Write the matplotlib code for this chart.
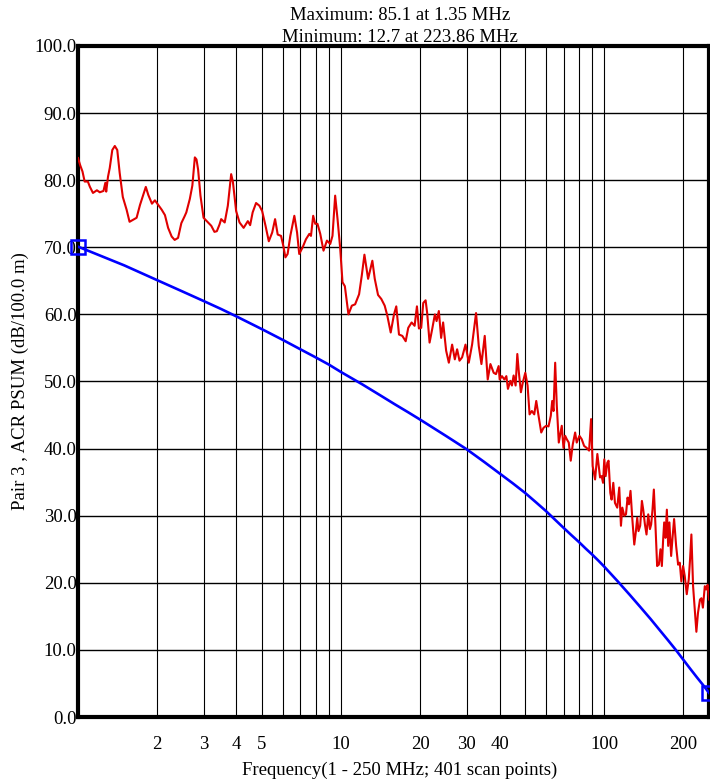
import matplotlib
matplotlib.use('Agg')
import matplotlib.pyplot as plt
from matplotlib.ticker import FixedLocator, NullFormatter

plt.rcParams['font.family'] = ['Liberation Serif', 'DejaVu Serif']

# measured ACR PSUM, pair 3 (MHz, dB)
freq = [1.00, 1.02, 1.04, 1.06, 1.09, 1.11, 1.14, 1.18, 1.21, 1.25, 1.27, 1.28, 1.30, 1.32, 1.35, 1.38,
        1.41, 1.44, 1.48, 1.53, 1.57, 1.62, 1.67, 1.72, 1.77, 1.81, 1.85, 1.91, 1.96, 2.02, 2.08,
        2.14, 2.20, 2.27, 2.33, 2.40, 2.47, 2.54, 2.58, 2.66, 2.72, 2.78, 2.82, 2.86, 2.92, 3.00,
        3.12, 3.21, 3.30, 3.37, 3.45, 3.50, 3.61, 3.71, 3.82, 3.88, 3.99, 4.11, 4.26, 4.42, 4.51,
        4.61, 4.75, 4.89, 5.01, 5.16, 5.31, 5.47, 5.61, 5.74, 5.91, 6.03, 6.14, 6.26, 6.41, 6.64,
        6.80, 6.93, 7.14, 7.35, 7.57, 7.68, 7.83, 7.97, 8.13, 8.33, 8.57, 8.83, 9.09, 9.27, 9.49,
        9.69, 9.92, 10.12, 10.33, 10.66, 10.98, 11.30, 11.70, 11.98, 12.26, 12.66, 13.14, 13.42,
        13.81, 14.21, 14.64, 14.98, 15.43, 15.88, 16.20, 16.59, 17.08, 17.59, 17.99, 18.53, 19.02,
        19.41, 19.75, 20.15, 20.51, 20.94, 21.23, 21.68, 22.18, 22.71, 23.05, 23.51, 23.99, 24.41,
        25.06, 25.66, 26.41, 27.04, 27.59, 28.17, 28.82, 29.69, 30.55, 31.45, 32.56, 33.34, 34.13,
        35.13, 36.06, 36.92, 37.99, 38.76, 39.68, 40.03, 40.84, 41.71, 42.44, 43.04, 43.95, 44.57,
        45.23, 46.03, 46.72, 47.37, 48.21, 49.06, 50.10, 51.11, 52.01, 53.06, 54.18, 55.14, 56.25,
        57.60, 58.76, 60.16, 61.38, 62.62, 63.39, 64.12, 65.07, 66.00, 67.16, 67.98, 68.93, 69.97,
        71.00, 72.01, 73.27, 74.56, 75.88, 77.49, 78.57, 80.45, 82.08, 83.82, 85.74, 87.55, 89.10,
        90.34, 92.26, 94.12, 96.36, 97.72, 98.92, 100.0, 101.2, 102.7, 103.8, 105.4, 106.6, 108.2,
        109.8, 112.0, 114.0, 115.7, 117.1, 119.1, 120.9, 122.6, 124.1, 125.8, 127.7, 130.0, 131.9,
        133.4, 134.9, 136.9, 139.0, 140.6, 142.7, 144.7, 146.9, 149.1, 150.7, 152.5, 154.3, 156.5,
        158.8, 161.2, 163.5, 165.5, 167.4, 168.9, 170.8, 172.9, 174.9, 176.8, 179.5, 181.5, 184.2,
        187.5, 190.8, 193.6, 196.3, 199.3, 202.2, 205.8, 209.4, 211.8, 214.3, 217.5, 223.86, 227.0,
        231.0, 234.0, 237.0, 241.0, 244.0, 247.0, 250.0]
acr = [83.3, 82.2, 81.3, 79.8, 79.8, 79.0, 78.1, 78.5, 78.2, 78.4, 79.6, 78.3, 80.5, 81.8, 84.5, 85.1,
       84.5, 81.1, 77.5, 75.6, 73.8, 74.1, 74.4, 76.3, 77.8, 79.0, 77.8, 76.5, 77.0, 76.3, 75.6,
       74.8, 72.9, 71.6, 71.1, 71.4, 73.6, 74.6, 75.2, 77.2, 79.2, 83.4, 83.1, 81.6, 77.7, 74.4,
       73.7, 73.2, 72.3, 72.4, 73.4, 74.2, 73.7, 76.2, 80.9, 79.7, 75.4, 73.7, 72.9, 73.9, 73.3,
       75.2, 76.6, 76.2, 75.4, 73.2, 70.9, 72.2, 74.2, 71.9, 71.7, 70.2, 68.5, 69.0, 71.7, 74.7,
       72.2, 69.0, 70.0, 71.2, 72.0, 71.7, 74.7, 73.5, 73.5, 72.0, 69.5, 71.0, 70.5, 71.7, 77.7,
       74.2, 69.8, 64.8, 64.2, 60.0, 61.3, 61.5, 63.0, 65.8, 68.9, 65.3, 68.0, 65.3,
       62.9, 62.3, 61.3, 59.8, 57.3, 60.0, 61.2, 57.0, 56.8, 56.0, 58.0, 58.8, 58.3,
       61.2, 57.9, 58.0, 61.7, 62.1, 60.2, 55.8, 57.8, 60.0, 59.0, 60.5, 56.5, 58.8,
       54.6, 52.8, 55.5, 53.3, 54.8, 53.1, 53.6, 55.5, 52.8, 55.5, 60.2, 55.3, 52.6,
       56.8, 50.3, 52.6, 51.3, 51.1, 52.3, 50.3, 50.8, 50.3, 50.8, 48.9, 50.1, 49.4,
       50.9, 49.4, 54.1, 51.3, 48.4, 49.9, 51.3, 49.4, 45.1, 45.6, 45.1, 47.1, 44.9,
       42.4, 43.1, 43.4, 43.3, 44.9, 47.1, 45.6, 52.8, 46.4, 40.9, 42.1, 43.4, 40.1,
       41.9, 41.4, 40.9, 38.2, 40.6, 42.4, 40.9, 41.9, 41.4, 40.4, 40.1, 39.7, 44.4,
       37.4, 35.4, 39.2, 35.7, 35.9, 34.9, 38.4, 35.9, 37.9, 38.2, 33.4, 32.4, 34.9,
       31.9, 31.2, 34.2, 28.5, 31.2, 30.0, 30.2, 32.7, 31.7, 33.7, 29.7, 25.7, 27.7,
       29.7, 27.7, 28.5, 32.2, 30.9, 28.7, 27.2, 30.2, 28.0, 28.7, 30.9, 33.9, 28.5,
       22.5, 22.7, 25.0, 22.5, 26.5, 29.0, 26.7, 30.9, 25.5, 29.0, 24.0, 26.5, 29.5,
       25.5, 22.7, 23.0, 20.2, 22.5, 21.0, 18.3, 20.5, 23.5, 27.2, 19.5, 12.7, 15.5,
       17.5, 17.7, 16.3, 19.5, 19.0, 19.7, 17.5]

# limit line (MHz, dB)
lim_freq = [1, 1.5, 2, 2.5, 3, 3.5, 4, 5, 6, 7, 8, 9, 10, 12, 14, 16, 18, 20, 25, 30, 35, 40, 45,
            50, 55, 60, 65, 70, 75, 80, 85, 90, 95, 100, 112, 125, 137, 150, 162, 175, 187, 200,
            212, 225, 237, 250]
lim_val = [70.1, 67.3, 65.1, 63.4, 62.0, 60.8, 59.7, 57.8, 56.2, 54.8, 53.6, 52.5, 51.4, 49.6, 48.0,
           46.6, 45.4, 44.3, 41.9, 39.9, 38.0, 36.3, 34.8, 33.4, 32.0, 30.7, 29.4, 28.2, 27.1, 26.1,
           25.1, 24.2, 23.3, 22.4, 20.3, 18.2, 16.4, 14.6, 13.0, 11.4, 10.0, 8.5, 7.2, 5.9, 4.8, 3.6]

xtick_vals = [2, 3, 4, 5, 10, 20, 30, 40, 100, 200]
grid_x = [2, 3, 4, 5, 6, 7, 8, 9, 10, 20, 30, 40, 50, 60, 70, 80, 90, 100, 200]
ytick_vals = list(range(0, 101, 10))

fig = plt.figure(figsize=(7.1, 7.8), dpi=100)
ax = fig.add_axes([78 / 710, 63 / 780, 631 / 710, 671 / 780])

ax.set_xscale('log')
ax.set_xlim(1, 250)
ax.set_ylim(0, 100)

for gx in grid_x:
    ax.axvline(gx, color='black', lw=0.8, zorder=1)
for gy in ytick_vals[1:-1]:
    ax.axhline(gy, color='black', lw=1.0, zorder=1)

ax.plot(lim_freq, lim_val, color='#0000ff', lw=1.9, zorder=3)
ax.plot(freq, acr, color='#e00000', lw=1.5, zorder=4)
ax.plot([lim_freq[0], lim_freq[-1]], [lim_val[0], lim_val[-1]], ls='none', marker='s',
        ms=10, mfc='none', mec='#0000ff', mew=1.8, clip_on=False, zorder=5)

ax.xaxis.set_major_locator(FixedLocator(xtick_vals))
ax.xaxis.set_minor_formatter(NullFormatter())
ax.set_xticks([], minor=True)
ax.set_xticklabels([str(v) for v in xtick_vals])
ax.set_yticks(ytick_vals)
ax.set_yticklabels(['%.1f' % v for v in ytick_vals])
ax.tick_params(axis='both', length=0, labelsize=13.5)
ax.tick_params(axis='x', pad=14)
ax.tick_params(axis='y', pad=1)

for sp in ax.spines.values():
    sp.set_linewidth(3)
    sp.set_color('black')

ax.set_ylabel('Pair 3 , ACR PSUM (dB/100.0 m)', fontsize=13.5, labelpad=4)
fig.text(400 / 710, 1 - 770 / 780, 'Frequency(1 - 250 MHz; 401 scan points)',
         ha='center', va='center', fontsize=13.5)
fig.text(400 / 710, 1 - 16 / 780, 'Maximum: 85.1 at 1.35 MHz', ha='center', va='center', fontsize=13.5)
fig.text(400 / 710, 1 - 37 / 780, 'Minimum: 12.7 at 223.86 MHz', ha='center', va='center', fontsize=13.5)

fig.savefig('out.png', dpi=100)
